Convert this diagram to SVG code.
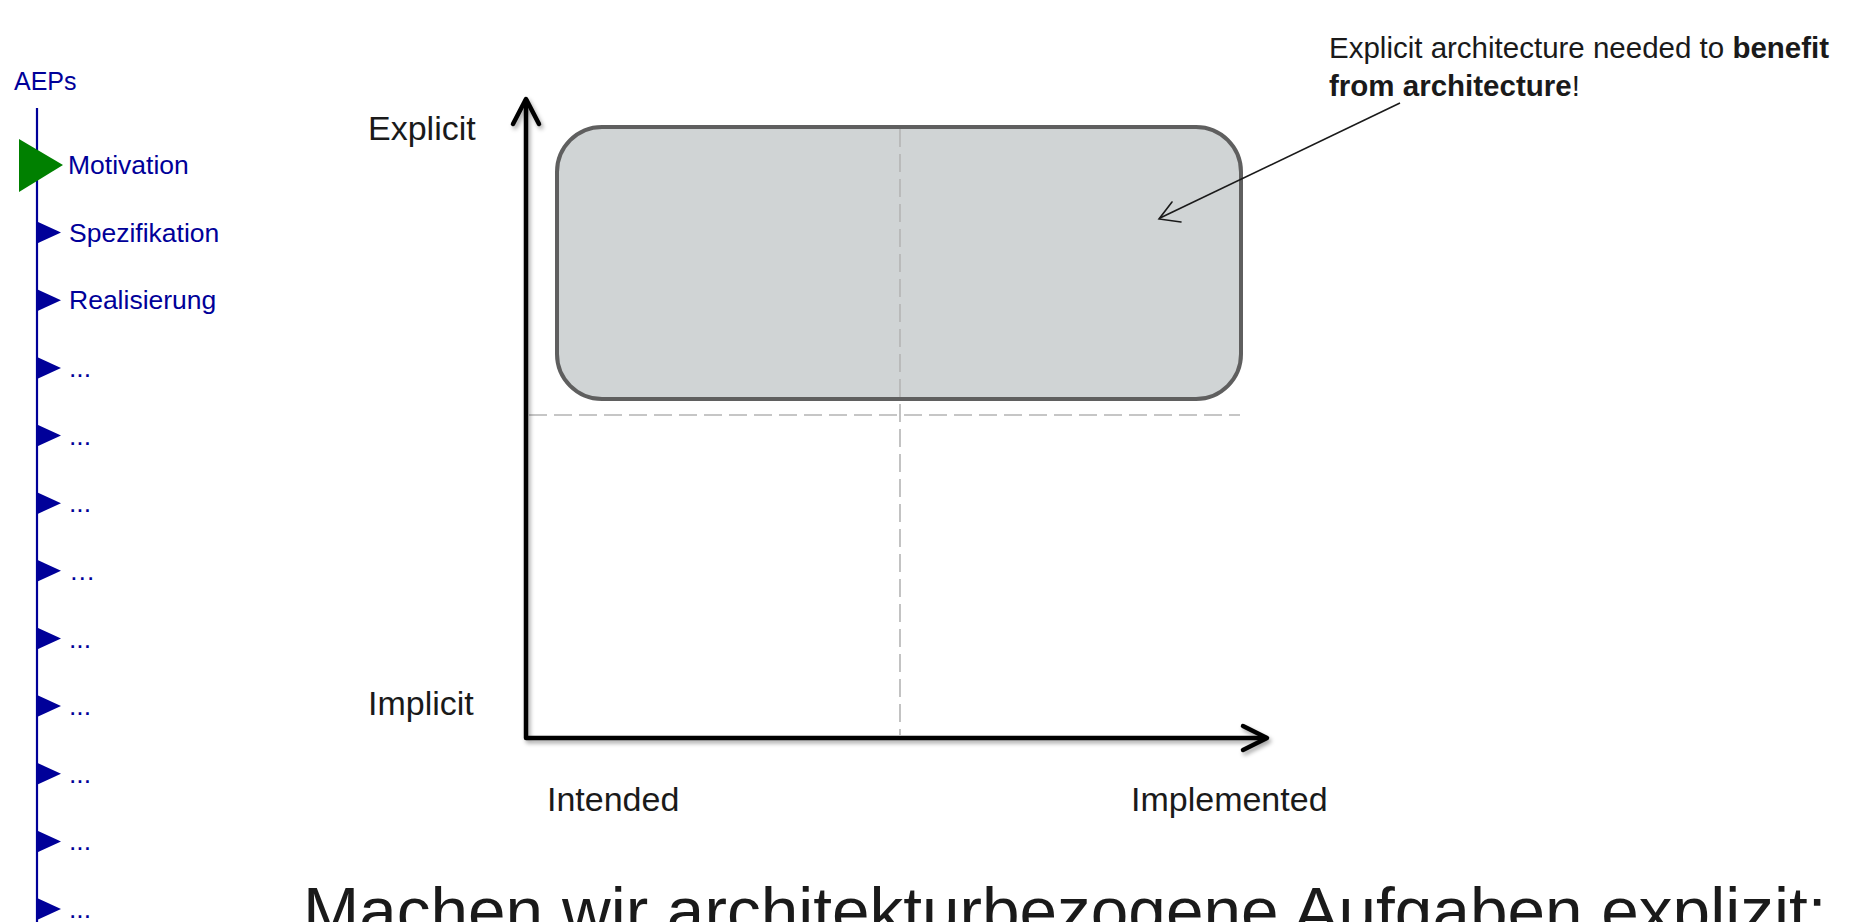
<svg xmlns="http://www.w3.org/2000/svg" width="1852" height="922" viewBox="0 0 1852 922">
<defs>
<style>
.nav{font-family:"Liberation Sans",Arial,sans-serif;font-size:26.5px;fill:#000099}
.tri{fill:#000099}
.lbl{font-family:"Liberation Sans",Arial,sans-serif;font-size:34px;fill:#1a1a1a}
.note{font-family:"Liberation Sans",Arial,sans-serif;font-size:29.5px;fill:#1a1a1a}
.axis{fill:none;stroke:#000;stroke-width:4.5;stroke-linecap:round;stroke-linejoin:round}
.dash{fill:none;stroke:#b4b4b4;stroke-width:1.6;stroke-dasharray:18 7}
</style>
<filter id="sh" x="-10%" y="-10%" width="120%" height="120%">
<feDropShadow dx="2" dy="3" stdDeviation="2" flood-color="#000" flood-opacity="0.35"/>
</filter>
</defs>
<rect width="1852" height="922" fill="#fff"/>
<g id="sidebar">
<text x="14" y="90" font-family="Liberation Sans, Arial, sans-serif" font-size="25" fill="#000099">AEPs</text>
<line x1="37" y1="108" x2="37" y2="922" stroke="#000099" stroke-width="2.2"/>
<g id="nav-motivation"><polygon points="19,139 63,165 19,192" fill="#008000"/><text class="nav" x="68" y="174">Motivation</text></g>
<g id="nav-spezifikation"><polygon class="tri" points="37,221.6 61,232.6 37,243.6"/><text class="nav" x="69" y="241.6">Spezifikation</text></g>
<g id="nav-realisierung"><polygon class="tri" points="37,289.3 61,300.3 37,311.3"/><text class="nav" x="69" y="309.3">Realisierung</text></g>
<g id="nav-4"><polygon class="tri" points="37,356.9 61,367.9 37,378.9"/><text class="nav" x="69" y="376.9">...</text></g>
<g id="nav-5"><polygon class="tri" points="37,424.6 61,435.6 37,446.6"/><text class="nav" x="69" y="444.6">...</text></g>
<g id="nav-6"><polygon class="tri" points="37,492.2 61,503.2 37,514.2"/><text class="nav" x="69" y="512.2">...</text></g>
<g id="nav-7"><polygon class="tri" points="37,559.8 61,570.8 37,581.8"/><text class="nav" x="69" y="579.8">…</text></g>
<g id="nav-8"><polygon class="tri" points="37,627.5 61,638.5 37,649.5"/><text class="nav" x="69" y="647.5">...</text></g>
<g id="nav-9"><polygon class="tri" points="37,695.1 61,706.1 37,717.1"/><text class="nav" x="69" y="715.1">...</text></g>
<g id="nav-10"><polygon class="tri" points="37,762.8 61,773.8 37,784.8"/><text class="nav" x="69" y="782.8">...</text></g>
<g id="nav-11"><polygon class="tri" points="37,830.4 61,841.4 37,852.4"/><text class="nav" x="69" y="850.4">...</text></g>
<g id="nav-12"><polygon class="tri" points="37,898 61,909 37,920"/><text class="nav" x="69" y="918">...</text></g>
</g>
<g id="box">
<rect x="557" y="127" width="684" height="272" rx="45" ry="45" fill="#d0d4d5" stroke="#5f5f5f" stroke-width="4"/>
</g>
<g id="guides">
<line class="dash" x1="900" y1="129" x2="900" y2="735"/>
<line class="dash" x1="529" y1="415" x2="1240" y2="415"/>
</g>
<g id="axes" filter="url(#sh)">
<path class="axis" d="M526,100 L526,738 L1266,738"/>
<path class="axis" d="M513,124 L526,99 L539,124"/>
<path class="axis" d="M1243,726 L1267,738 L1243,750"/>
</g>
<g id="labels">
<text class="lbl" x="368" y="140">Explicit</text>
<text class="lbl" x="368" y="715">Implicit</text>
<text class="lbl" x="547" y="811">Intended</text>
<text class="lbl" x="1131" y="811">Implemented</text>
</g>
<g id="callout">
<text class="note" x="1329" y="58">Explicit architecture needed to <tspan font-weight="bold">benefit</tspan></text>
<text class="note" x="1329" y="96"><tspan font-weight="bold">from architecture</tspan>!</text>
</g>
<g id="connectors">
<line x1="1400" y1="103" x2="1160" y2="218" stroke="#1a1a1a" stroke-width="1.6"/>
<path d="M1172,202 L1159,219 L1181,222" fill="none" stroke="#1a1a1a" stroke-width="1.6" stroke-linecap="round"/>
</g>
<text x="303" y="934" font-family="Liberation Sans, Arial, sans-serif" font-size="67.5" fill="#1a1a1a">Machen wir architekturbezogene Aufgaben explizit:</text>
</svg>
